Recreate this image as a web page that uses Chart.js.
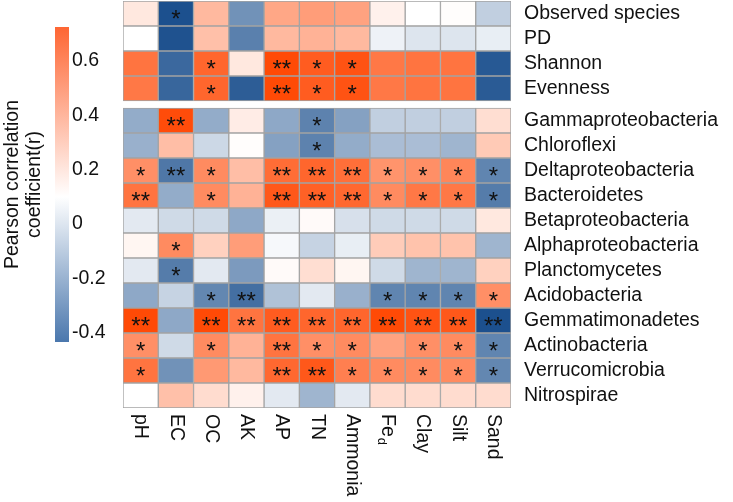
<!DOCTYPE html>
<html>
<head>
<meta charset="utf-8">
<script src="https://cdn.jsdelivr.net/npm/chart.js@4.4.0/dist/chart.umd.min.js"></script>
<style>
  html, body { margin: 0; padding: 0; background: #fff; }
  #wrap { position: relative; width: 733px; height: 502px; }
  #legendBox { position: absolute; left: 0; top: 0; width: 120px; height: 360px; }
  #heatBox { position: absolute; left: 110px; top: 0; width: 623px; height: 502px; }
</style>
</head>
<body>
<div id="wrap">
  <div id="legendBox"><canvas id="legendChart"></canvas></div>
  <div id="heatBox"><canvas id="heatChart"></canvas></div>
</div>
<script>
// soil properties (columns)
const columns = ["pH", "EC", "OC", "AK", "AP", "TN", "Ammonia", "Fe_d", "Clay", "Silt", "Sand"];

// upper block: diversity indices
const topRows = ["Observed species", "PD", "Shannon", "Evenness"];
const topValues = [
	[0.10, -0.80, 0.30, -0.50, 0.38, 0.42, 0.40, 0.06, 0.00, 0.01, -0.22],
	[0.00, -0.79, 0.27, -0.58, 0.30, 0.33, 0.30, -0.06, -0.12, -0.12, -0.08],
	[0.60, -0.69, 0.66, 0.10, 0.78, 0.70, 0.74, 0.58, 0.60, 0.60, -0.76],
	[0.58, -0.70, 0.66, -0.74, 0.78, 0.70, 0.74, 0.58, 0.60, 0.60, -0.75]
];
const topStars = [
	["", "*", "", "", "", "", "", "", "", "", ""],
	["", "", "", "", "", "", "", "", "", "", ""],
	["", "", "*", "", "**", "*", "*", "", "", "", ""],
	["", "", "*", "", "**", "*", "*", "", "", "", ""]
];

// lower block: bacterial phyla
const bottomRows = ["Gammaproteobacteria", "Chloroflexi", "Deltaproteobacteria", "Bacteroidetes",
	"Betaproteobacteria", "Alphaproteobacteria", "Planctomycetes", "Acidobacteria",
	"Gemmatimonadetes", "Actinobacteria", "Verrucomicrobia", "Nitrospirae"];
const bottomValues = [
	[-0.38, 0.77, -0.38, 0.08, -0.40, -0.57, -0.43, -0.22, -0.22, -0.22, 0.14],
	[-0.36, 0.28, -0.18, 0.01, -0.43, -0.57, -0.38, -0.30, -0.30, -0.34, 0.23],
	[0.48, -0.62, 0.50, 0.28, 0.63, 0.66, 0.62, 0.46, 0.48, 0.52, -0.56],
	[0.60, -0.38, 0.50, 0.33, 0.72, 0.68, 0.65, 0.50, 0.58, 0.58, -0.60],
	[-0.10, -0.17, -0.17, -0.40, -0.07, 0.02, -0.14, -0.17, -0.17, -0.17, 0.10],
	[0.04, 0.50, 0.20, 0.42, -0.03, -0.20, -0.08, 0.22, 0.26, 0.26, -0.34],
	[-0.10, -0.60, -0.10, -0.46, 0.02, 0.14, 0.04, -0.17, -0.34, -0.34, 0.20],
	[-0.40, -0.20, -0.55, -0.66, -0.28, -0.10, -0.36, -0.56, -0.56, -0.56, 0.48],
	[0.78, -0.40, 0.78, 0.60, 0.70, 0.66, 0.66, 0.78, 0.74, 0.72, -0.80],
	[0.48, -0.17, 0.50, 0.33, 0.60, 0.48, 0.50, 0.40, 0.48, 0.50, -0.56],
	[0.60, -0.50, 0.44, 0.30, 0.65, 0.72, 0.55, 0.50, 0.50, 0.50, -0.55],
	[0.00, 0.27, 0.15, 0.06, -0.10, -0.34, -0.10, 0.15, 0.15, 0.15, 0.15]
];
const bottomStars = [
	["", "**", "", "", "", "*", "", "", "", "", ""],
	["", "", "", "", "", "*", "", "", "", "", ""],
	["*", "**", "*", "", "**", "**", "**", "*", "*", "*", "*"],
	["**", "", "*", "", "**", "**", "**", "*", "*", "*", "*"],
	["", "", "", "", "", "", "", "", "", "", ""],
	["", "*", "", "", "", "", "", "", "", "", ""],
	["", "*", "", "", "", "", "", "", "", "", ""],
	["", "", "*", "**", "", "", "", "*", "*", "*", "*"],
	["**", "", "**", "**", "**", "**", "**", "**", "**", "**", "**"],
	["*", "", "*", "", "**", "*", "*", "", "*", "*", "*"],
	["*", "", "", "", "**", "**", "*", "*", "*", "*", "*"],
	["", "", "", "", "", "", "", "", "", "", ""]
];

// colour bar
const colorbarMin = -0.434;
const colorbarMax = 0.724;
const colorbarTicks = [0.6, 0.4, 0.2, 0, -0.2, -0.4];
const colorbarTitle = ["Pearson correlation", "coefficient(r)"];

const fontFamily = '"Liberation Sans", Arial, Helvetica, sans-serif';
const labelSize = 19.5;
Chart.defaults.font.family = fontFamily;
Chart.defaults.color = "#111";

function cellColor(r) {
	const t = Math.min(Math.abs(r) / 0.8, 1);
	const end = r >= 0 ? [255, 69, 0] : [28, 80, 142];
	const c = end.map(e => Math.round(255 + (e - 255) * t));
	return "rgb(" + c.join(",") + ")";
}

// row positions on the y scale, with a small gap between the two blocks
const panelGap = 0.28;
const allRows = topRows.concat(bottomRows);
const allValues = topValues.concat(bottomValues);
const allStars = topStars.concat(bottomStars);
const rowPos = allRows.map((_, i) => i < topRows.length ? i : i + panelGap);

const cells = [];
allRows.forEach((row, r) => {
	columns.forEach((col, c) => {
		cells.push({ x: [c, c + 1], y: rowPos[r], value: allValues[r][c], star: allStars[r][c] });
	});
});

const starPlugin = {
	id: "stars",
	afterDatasetsDraw(chart) {
		const { ctx, scales: { x, y } } = chart;
		ctx.save();
		ctx.font = "24px " + fontFamily;
		ctx.fillStyle = "#111";
		ctx.textAlign = "center";
		ctx.textBaseline = "alphabetic";
		cells.forEach(cell => {
			if (!cell.star) return;
			const cx = x.getPixelForValue(cell.x[0] + 0.5);
			const cy = y.getPixelForValue(cell.y);
			ctx.fillText(cell.star, cx, cy + 13.5);
		});
		ctx.restore();
	}
};

// x labels read top to bottom, Fe_d gets a subscript
const columnLabels = {
	id: "columnLabels",
	afterDraw(chart) {
		const { ctx, chartArea, scales: { x } } = chart;
		ctx.save();
		ctx.fillStyle = "#111";
		ctx.textBaseline = "middle";
		ctx.textAlign = "left";
		columns.forEach((col, c) => {
			const parts = col.split("_");
			ctx.save();
			ctx.translate(x.getPixelForValue(c + 0.5), chartArea.bottom + 6);
			ctx.rotate(Math.PI / 2);
			ctx.font = labelSize + "px " + fontFamily;
			ctx.fillText(parts[0], 0, 0);
			if (parts[1]) {
				const w = ctx.measureText(parts[0]).width;
				ctx.font = "13px " + fontFamily;
				ctx.fillText(parts[1], w + 1, 6);
			}
			ctx.restore();
		});
		ctx.restore();
	}
};

new Chart(document.getElementById("heatChart"), {
	type: "bar",
	data: {
		datasets: [{
			data: cells,
			backgroundColor: ctx => cellColor(ctx.raw.value),
			borderColor: "#a3a3a3",
			borderWidth: 1,
			borderSkipped: false,
			barPercentage: 1,
			categoryPercentage: 1
		}]
	},
	options: {
		indexAxis: "y",
		animation: false,
		responsive: true,
		maintainAspectRatio: false,
		layout: { padding: { left: 13, top: 1, bottom: 94, right: 10 } },
		plugins: { legend: { display: false }, tooltip: { enabled: false } },
		scales: {
			x: { type: "linear", min: 0, max: columns.length, display: false, offset: false },
			y: {
				type: "linear",
				position: "right",
				reverse: true,
				offset: false,
				min: -0.5,
				max: allRows.length - 0.5 + panelGap,
				grid: { display: false, drawTicks: false },
				border: { display: false },
				afterBuildTicks: s => { s.ticks = rowPos.map(v => ({ value: v })); },
				afterFit: s => { s.width = 212; s.paddingTop = 0; s.paddingBottom = 0; },
				ticks: {
					autoSkip: false,
					padding: 13,
					color: "#111",
					font: { size: labelSize },
					callback: (v, i) => allRows[i]
				}
			}
		}
	},
	plugins: [starPlugin, columnLabels]
});

new Chart(document.getElementById("legendChart"), {
	type: "bar",
	data: {
		labels: [""],
		datasets: [{
			data: [[colorbarMin, colorbarMax]],
			backgroundColor: ctx => {
				const area = ctx.chart.chartArea;
				if (!area) return "#fff";
				const g = ctx.chart.ctx.createLinearGradient(0, area.bottom, 0, area.top);
				const whiteAt = (0.1 - colorbarMin) / (colorbarMax - colorbarMin);
				g.addColorStop(0, "#4a77ad");
				g.addColorStop(whiteAt, "#ffffff");
				g.addColorStop(1, "#fe6633");
				return g;
			},
			borderWidth: 0,
			barPercentage: 1,
			categoryPercentage: 1
		}]
	},
	options: {
		animation: false,
		responsive: true,
		maintainAspectRatio: false,
		layout: { padding: { top: 27, bottom: 18, left: 0, right: 0 } },
		plugins: { legend: { display: false }, tooltip: { enabled: false } },
		scales: {
			x: { display: false },
			y: {
				type: "linear",
				position: "right",
				min: colorbarMin,
				max: colorbarMax,
				grid: { display: false, drawTicks: false },
				border: { display: false },
				afterBuildTicks: s => { s.ticks = colorbarTicks.map(v => ({ value: v })); },
				afterFit: s => { s.width = 51; s.paddingTop = 0; s.paddingBottom = 0; },
				ticks: { padding: 3, color: "#111", font: { size: labelSize }, callback: v => String(v) }
			},
			yTitle: {
				axis: "y",
				type: "linear",
				position: "left",
				min: colorbarMin,
				max: colorbarMax,
				ticks: { display: false },
				grid: { display: false, drawTicks: false },
				border: { display: false },
				afterFit: s => { s.width = 55; },
				title: {
					display: true,
					text: colorbarTitle,
					color: "#111",
					padding: { top: 2, bottom: 2 },
					font: { size: labelSize, lineHeight: 1.1 }
				}
			}
		}
	}
});
</script>
</body>
</html>
